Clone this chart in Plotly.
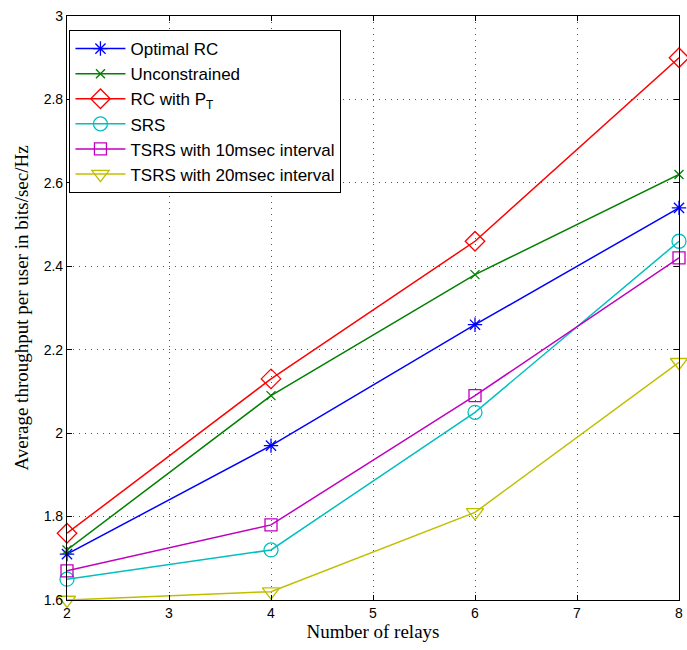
import plotly.graph_objects as go

relays = [2, 4, 6, 8]
optimal_rc = [1.71, 1.97, 2.26, 2.54]
unconstrained = [1.72, 2.09, 2.38, 2.62]
rc_with_pt = [1.76, 2.13, 2.46, 2.90]
srs = [1.65, 1.72, 2.05, 2.46]
tsrs_10 = [1.67, 1.78, 2.09, 2.42]
tsrs_20 = [1.60, 1.62, 1.81, 2.17]

series = [
    ("Optimal RC", optimal_rc, "#0000ff", "asterisk-open", 12),
    ("Unconstrained", unconstrained, "#008000", "x-thin-open", 9),
    ("RC with P<sub>T</sub>", rc_with_pt, "#ff0000", "diamond-open", 15),
    ("SRS", srs, "#00bfbf", "circle-open", 14),
    ("TSRS with 10msec interval", tsrs_10, "#bf00bf", "square-open", 12),
    ("TSRS with 20msec interval", tsrs_20, "#bfbf00", "triangle-down-open", 15),
]

fig = go.Figure()
for name, vals, color, sym, size in series:
    fig.add_trace(go.Scatter(
        x=relays, y=vals, name=name, mode="lines+markers",
        line=dict(color=color, width=1.5),
        marker=dict(symbol=sym, size=size, color=color, line=dict(color=color, width=1.3)),
        cliponaxis=False,
    ))

axis_common = dict(
    showline=True, linecolor="black", linewidth=1.2, mirror="ticks",
    ticks="inside", ticklen=5, tickcolor="black",
    showgrid=True, gridcolor="#555555", griddash="1px,5px", gridwidth=1,
    zeroline=False, ticklabeloverflow="allow",
    tickfont=dict(family="Liberation Sans, Arial", size=14, color="black"),
)

title_font = dict(family="Liberation Serif, Times New Roman", size=19, color="black")

fig.update_xaxes(range=[2, 8], dtick=1, tick0=2,
                 title=dict(text="Number of relays", standoff=2, font=title_font),
                 **axis_common)
fig.update_yaxes(range=[1.6, 3.0], dtick=0.2, tick0=1.6, tickformat=".1~f",
                 title=dict(text="Average throughput per user in bits/sec/Hz", standoff=9,
                            font=title_font),
                 **axis_common)

fig.update_layout(
    width=687, height=650,
    margin=dict(l=67, r=4, t=16, b=50),
    plot_bgcolor="white", paper_bgcolor="white",
    legend=dict(x=0.004, y=0.976, xanchor="left", yanchor="top",
                bgcolor="white", bordercolor="black", borderwidth=1,
                font=dict(family="Liberation Sans, Arial", size=17, color="black"),
                itemwidth=50, tracegroupgap=0),
    showlegend=True,
)

fig.write_html("out.html")
